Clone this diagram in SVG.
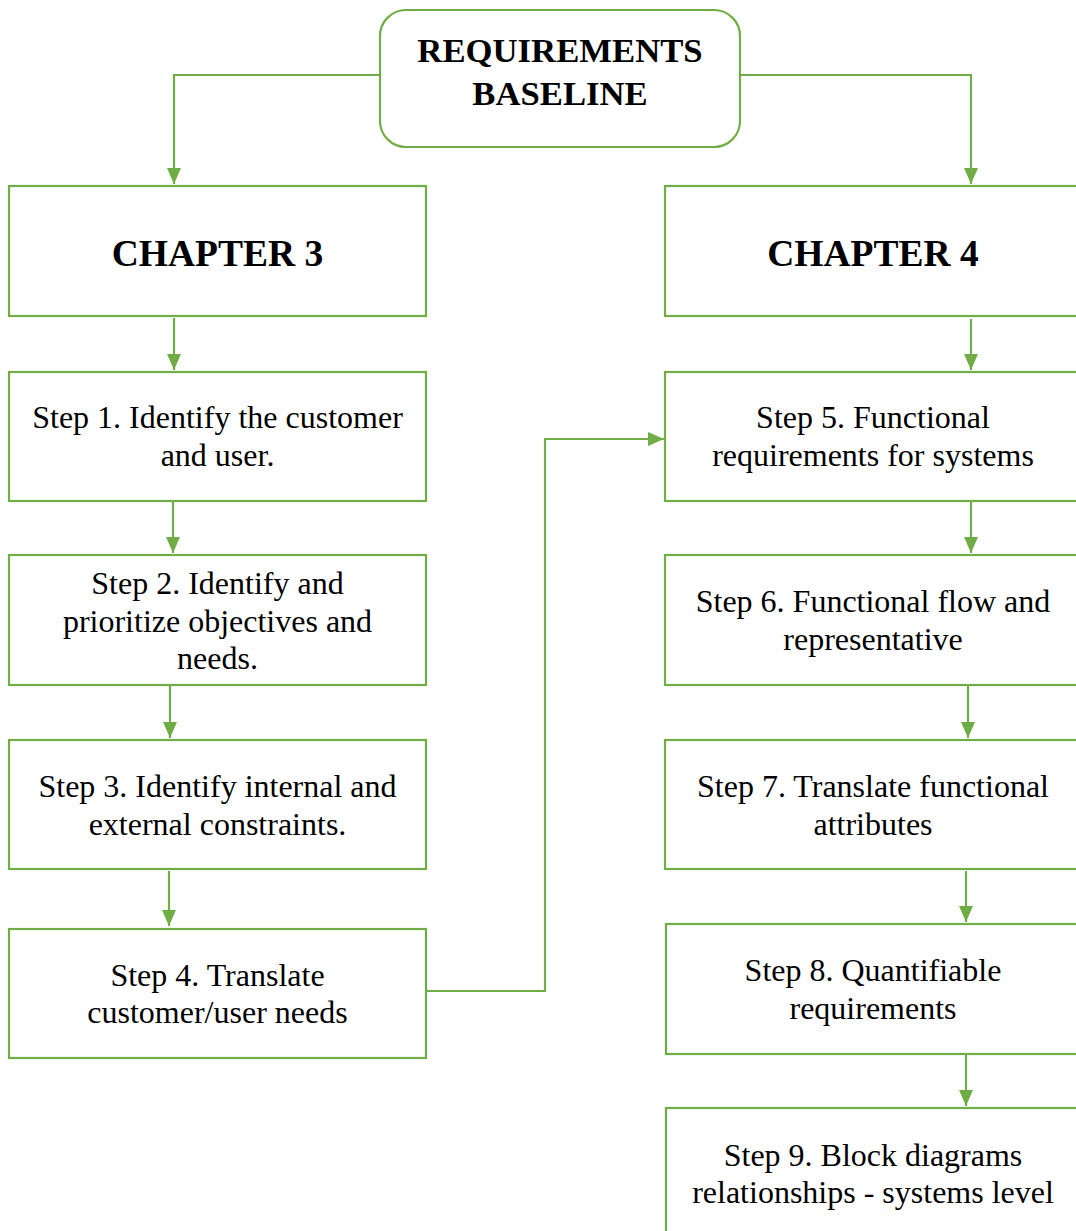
<svg xmlns="http://www.w3.org/2000/svg" width="1076" height="1231" viewBox="0 0 1076 1231">
<style>
.box{fill:#fff;stroke:#70AD47;stroke-width:2.2}
.c{fill:none;stroke:#70AD47;stroke-width:2.2}
.t{font-family:"Liberation Serif","Times New Roman",serif;font-size:32px;fill:#000;text-anchor:middle}
.h{font-family:"Liberation Serif","Times New Roman",serif;font-size:37.5px;font-weight:bold;fill:#000;text-anchor:middle}
.r{font-family:"Liberation Serif","Times New Roman",serif;font-size:34.7px;font-weight:bold;fill:#000;text-anchor:middle}
</style>
<defs>
<marker id="b" viewBox="0 0 16 14" refX="16" refY="7" markerWidth="16" markerHeight="14" markerUnits="userSpaceOnUse" orient="auto">
<path d="M0,0 L16,7 L0,14 z" fill="#70AD47"/>
</marker>
</defs>
<rect width="1076" height="1231" fill="#fff"/>
<g id="connectors">
<path class="c" d="M380,75 H174 V184" marker-end="url(#b)"/>
<path class="c" d="M740,75 H971 V184" marker-end="url(#b)"/>
<path class="c" d="M174,318 V370" marker-end="url(#b)"/>
<path class="c" d="M173,502 V553" marker-end="url(#b)"/>
<path class="c" d="M170,686 V738" marker-end="url(#b)"/>
<path class="c" d="M169,871 V926" marker-end="url(#b)"/>
<path class="c" d="M426,991 H545 V439 H664" marker-end="url(#b)"/>
<path class="c" d="M971,319 V370" marker-end="url(#b)"/>
<path class="c" d="M971,502 V553" marker-end="url(#b)"/>
<path class="c" d="M968,686 V738" marker-end="url(#b)"/>
<path class="c" d="M966,871 V922" marker-end="url(#b)"/>
<path class="c" d="M966,1055 V1106" marker-end="url(#b)"/>
</g>
<g id="baseline">
<rect class="box" x="380" y="10" width="360" height="137" rx="26"/>
<text class="r" x="560" y="62">REQUIREMENTS</text>
<text class="r" x="560" y="105">BASELINE</text>
</g>
<g id="ch3">
<rect class="box" x="9" y="186" width="417" height="130"/>
<text class="h" x="217.5" y="266">CHAPTER 3</text>
</g>
<g id="step1">
<rect class="box" x="9" y="372" width="417" height="129"/>
<text class="t" x="217.5" y="428">Step 1. Identify the customer</text>
<text class="t" x="217.5" y="466">and user.</text>
</g>
<g id="step2">
<rect class="box" x="9" y="555" width="417" height="130"/>
<text class="t" x="217.5" y="594">Step 2. Identify and</text>
<text class="t" x="217.5" y="632">prioritize objectives and</text>
<text class="t" x="217.5" y="669">needs.</text>
</g>
<g id="step3">
<rect class="box" x="9" y="740" width="417" height="129"/>
<text class="t" x="217.5" y="797">Step 3. Identify internal and</text>
<text class="t" x="217.5" y="835">external constraints.</text>
</g>
<g id="step4">
<rect class="box" x="9" y="929" width="417" height="129"/>
<text class="t" x="217.5" y="986">Step 4. Translate</text>
<text class="t" x="217.5" y="1023">customer/user needs</text>
</g>
<g id="ch4">
<rect class="box" x="665" y="186" width="420" height="130"/>
<text class="h" x="873" y="266">CHAPTER 4</text>
</g>
<g id="step5">
<rect class="box" x="665" y="372" width="420" height="129"/>
<text class="t" x="873" y="428">Step 5. Functional</text>
<text class="t" x="873" y="466">requirements for systems</text>
</g>
<g id="step6">
<rect class="box" x="665" y="555" width="420" height="130"/>
<text class="t" x="873" y="612">Step 6. Functional flow and</text>
<text class="t" x="873" y="650">representative</text>
</g>
<g id="step7">
<rect class="box" x="665" y="740" width="420" height="129"/>
<text class="t" x="873" y="797">Step 7. Translate functional</text>
<text class="t" x="873" y="835">attributes</text>
</g>
<g id="step8">
<rect class="box" x="666" y="924" width="420" height="130"/>
<text class="t" x="873" y="981">Step 8. Quantifiable</text>
<text class="t" x="873" y="1019">requirements</text>
</g>
<g id="step9">
<rect class="box" x="666" y="1108" width="420" height="140"/>
<text class="t" x="873" y="1166">Step 9. Block diagrams</text>
<text class="t" x="873" y="1203">relationships - systems level</text>
</g>
</svg>
